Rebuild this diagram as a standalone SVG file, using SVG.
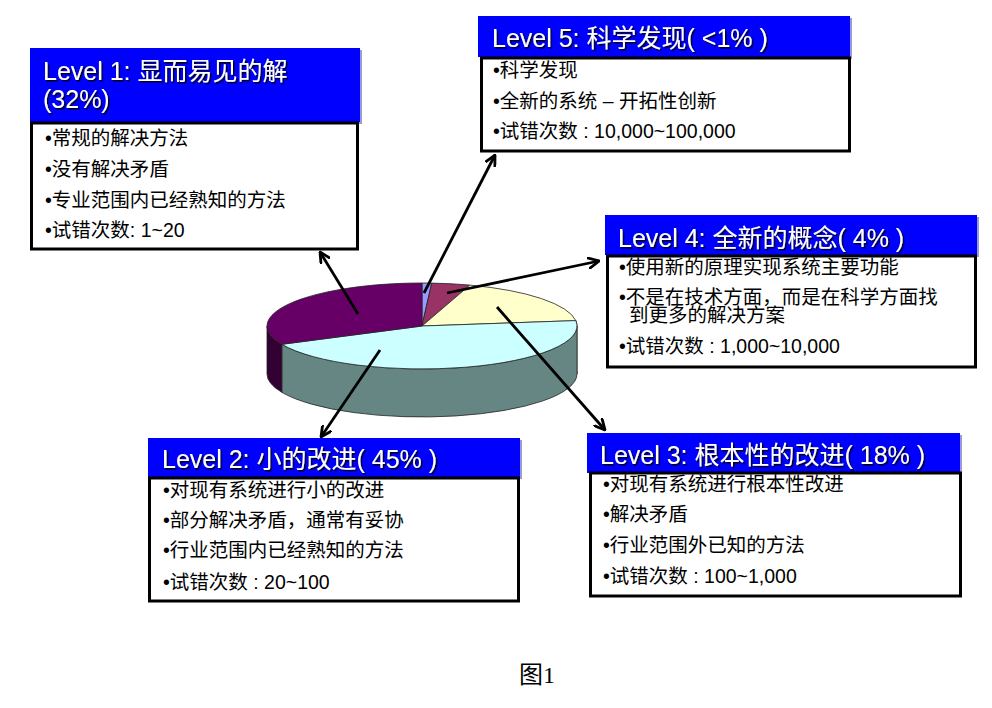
<svg xmlns="http://www.w3.org/2000/svg" width="992" height="708" viewBox="0 0 992 708">
<style>
.hdr{fill:#0000FF}
.hsh{fill:#9A9AD8}
.body{fill:#FFFFFF;stroke:#000000;stroke-width:3}
.ht{font-family:"Liberation Sans","Noto Sans CJK SC",sans-serif;font-size:25px;fill:#FFFFFF;filter:url(#ts)}
.bt{font-family:"Liberation Sans","Noto Sans CJK SC",sans-serif;font-size:19.5px;fill:#000000}
.sl{stroke:#222222;stroke-width:0.8;stroke-linejoin:round}
.con{stroke:#000000;stroke-width:2.8;fill:none;marker-end:url(#ah)}
.cap{font-family:"Liberation Serif","Noto Sans CJK SC",serif;font-size:24px;fill:#000000}
</style>
<defs>
<filter id="ts" x="-5%" y="-20%" width="110%" height="140%">
<feDropShadow dx="1.5" dy="1.5" stdDeviation="0.4" flood-color="#000000" flood-opacity="0.9"/>
</filter>
<marker id="ah" viewBox="0 0 12 12" refX="11" refY="6" markerWidth="12" markerHeight="12" markerUnits="userSpaceOnUse" orient="auto">
<path d="M1,1 L11,6 L1,11" fill="none" stroke="#000000" stroke-width="2.8" stroke-linecap="square"/>
</marker>
</defs>
<rect width="992" height="708" fill="#FFFFFF"/>

<g id="pie">
<path class="sl" fill="#99997A" d="M575.8,320.6 A155,43 0 0 1 577,326 L577,374 A155,43 0 0 0 575.8,368.6 Z"/>
<path class="sl" fill="#668684" d="M577,326 A155,43 0 0 1 281.8,344.3 L281.8,392.3 A155,43 0 0 0 577,374 Z"/>
<path class="sl" fill="#330033" d="M281.8,344.3 A155,43 0 0 1 267,326 L267,374 A155,43 0 0 0 281.8,392.3 Z"/>
<path class="sl" fill="#9999FF" d="M422,326 L422,283 A155,43 0 0 1 431.7,283.1 Z"/>
<path class="sl" fill="#993366" d="M422,326 L431.7,283.1 A155,43 0 0 1 469.9,285.1 Z"/>
<path class="sl" fill="#FFFFCC" d="M422,326 L469.9,285.1 A155,43 0 0 1 575.8,320.6 Z"/>
<path class="sl" fill="#CCFFFF" d="M422,326 L575.8,320.6 A155,43 0 0 1 281.8,344.3 Z"/>
<path class="sl" fill="#660066" d="M422,326 L281.8,344.3 A155,43 0 0 1 422,283 Z"/>
</g>

<g id="connectors">
<line class="con" x1="358" y1="314" x2="320" y2="252"/>
<line class="con" x1="424" y1="293" x2="495" y2="155"/>
<line class="con" x1="447" y1="293" x2="599" y2="261"/>
<line class="con" x1="497" y1="307" x2="605" y2="430"/>
<line class="con" x1="380" y1="350" x2="321" y2="437"/>
</g>

<g id="level1">
<rect class="hsh" x="32" y="50" width="330" height="74"/>
<rect class="hdr" x="30" y="48" width="330" height="74"/>
<rect class="body" x="31.5" y="123" width="326" height="126"/>
<text class="ht" x="43" y="80">Level 1: 显而易见的解</text>
<text class="ht" x="43" y="108">(32%)</text>
<text class="bt" x="45" y="145">•常规的解决方法</text>
<text class="bt" x="45" y="176">•没有解决矛盾</text>
<text class="bt" x="45" y="207">•专业范围内已经熟知的方法</text>
<text class="bt" x="45" y="237">•试错次数: 1~20</text>
</g>

<g id="level5">
<rect class="hsh" x="480" y="18" width="372" height="41"/>
<rect class="hdr" x="478" y="16" width="372" height="41"/>
<rect class="body" x="481.5" y="58" width="368" height="93"/>
<text class="ht" x="492" y="47">Level 5: 科学发现( &lt;1% )</text>
<text class="bt" x="493" y="77">•科学发现</text>
<text class="bt" x="493" y="108">•全新的系统 – 开拓性创新</text>
<text class="bt" x="493" y="138">•试错次数 : 10,000~100,000</text>
</g>

<g id="level4">
<rect class="hsh" x="607" y="217" width="372" height="40"/>
<rect class="hdr" x="605" y="215" width="372" height="40"/>
<rect class="body" x="607.5" y="256" width="368" height="111"/>
<text class="ht" x="618" y="247">Level 4: 全新的概念( 4% )</text>
<text class="bt" x="619" y="274">•使用新的原理实现系统主要功能</text>
<text class="bt" x="619" y="304">•不是在技术方面，而是在科学方面找</text>
<text class="bt" x="629" y="322">到更多的解决方案</text>
<text class="bt" x="619" y="353">•试错次数 : 1,000~10,000</text>
</g>

<g id="level2">
<rect class="hsh" x="150" y="440" width="372" height="39"/>
<rect class="hdr" x="148" y="438" width="372" height="39"/>
<rect class="body" x="149.5" y="478" width="369" height="123"/>
<text class="ht" x="162" y="468">Level 2: 小的改进( 45% )</text>
<text class="bt" x="163" y="497">•对现有系统进行小的改进</text>
<text class="bt" x="163" y="527">•部分解决矛盾，通常有妥协</text>
<text class="bt" x="163" y="557">•行业范围内已经熟知的方法</text>
<text class="bt" x="163" y="589">•试错次数 : 20~100</text>
</g>

<g id="level3">
<rect class="hsh" x="589" y="435" width="373" height="40"/>
<rect class="hdr" x="587" y="433" width="373" height="40"/>
<rect class="body" x="590.5" y="473" width="370" height="123"/>
<text class="ht" x="600" y="464">Level 3: 根本性的改进( 18% )</text>
<text class="bt" x="603" y="491">•对现有系统进行根本性改进</text>
<text class="bt" x="603" y="521">•解决矛盾</text>
<text class="bt" x="603" y="552">•行业范围外已知的方法</text>
<text class="bt" x="603" y="583">•试错次数 : 100~1,000</text>
</g>

<text class="cap" x="519" y="683">图1</text>
</svg>
